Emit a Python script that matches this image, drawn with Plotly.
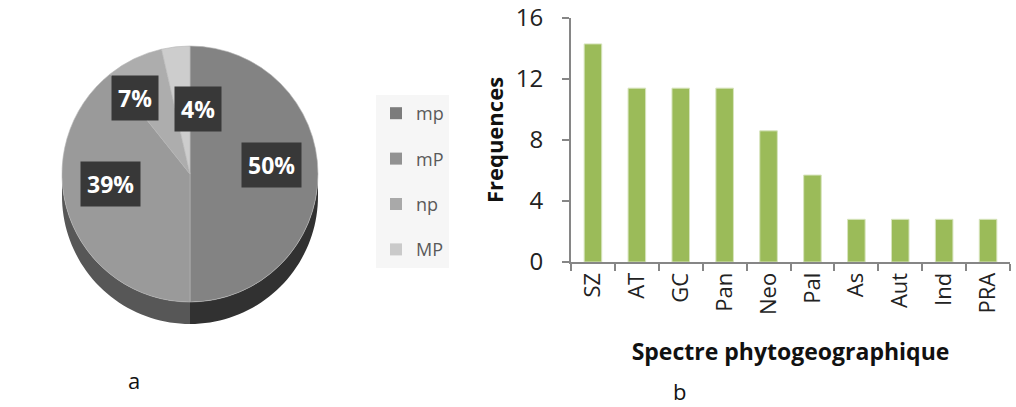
import math
import plotly.graph_objects as go

# ---- data ----
pie_labels = ["mp", "mP", "np", "MP"]
pie_values = [14, 11, 2, 1]
pie_colors = ["#838383", "#9a9a9a", "#adadad", "#cdcdcd"]
legend_colors = ["#7c7c7c", "#929292", "#a9a9a9", "#cacaca"]

bar_categories = ["SZ", "AT", "GC", "Pan", "Neo", "Pal", "As", "Aut", "Ind", "PRA"]
bar_values = [14.3, 11.4, 11.4, 11.4, 8.6, 5.7, 2.8, 2.8, 2.8, 2.8]
y_ticks = [0, 4, 8, 12, 16]

W, H = 1016, 407
FONT = "Open Sans"

def px(x):
    return x / W

def py(y):
    return 1 - y / H

# pie geometry (pixels)
cx, cy, R, depth = 190, 174, 128, 22

fig = go.Figure()

fig.add_trace(go.Bar(
    x=bar_categories, y=bar_values, marker=dict(color="#9bbb59", line=dict(color="#d7e4bd", width=1)),
    width=0.4, xaxis="x", yaxis="y", showlegend=False,
))

fig.add_trace(go.Pie(
    labels=pie_labels, values=pie_values, sort=False, direction="clockwise",
    rotation=0, marker=dict(colors=pie_colors, line=dict(color="#b5b5b5", width=0.6)),
    textinfo="none", hoverinfo="label+percent",
    domain=dict(x=[px(cx - R), px(cx + R)], y=[py(cy + R), py(cy - R)]),
    showlegend=False,
))

# legend entries for the pie slices
for lab, col in zip(pie_labels, legend_colors):
    fig.add_trace(go.Scatter(
        x=[None], y=[None], mode="markers", name=lab, legendgroup=lab,
        marker=dict(symbol="square", size=12, color=col), xaxis="x", yaxis="y",
        showlegend=True,
    ))

# 3D side of the pie (decoration)
def side_path(a0, a1, n=40):
    pts = []
    for i in range(n + 1):
        a = a0 + (a1 - a0) * i / n
        pts.append((cx + R * math.cos(a), cy + R * math.sin(a)))
    for i in range(n + 1):
        a = a1 + (a0 - a1) * i / n
        pts.append((cx + R * math.cos(a), cy + depth + R * math.sin(a)))
    return "M " + " L ".join(f"{px(x):.5f},{py(y):.5f}" for x, y in pts) + " Z"

shapes = [
    dict(type="path", xref="paper", yref="paper", layer="below",
         path=side_path(math.pi / 2, math.pi), fillcolor="#575757", line=dict(width=0)),
    dict(type="path", xref="paper", yref="paper", layer="below",
         path=side_path(0, math.pi / 2), fillcolor="#313131", line=dict(width=0)),
]

# percentage labels in dark boxes
total = sum(pie_values)
annotations = []
cum = 0
fracs = [0.64, 0.66, 0.72, 0.52]
shifts = [(0, -9), (0, -18), (-15, 7), (15, 1)]
for v, f, (sx, sy) in zip(pie_values, fracs, shifts):
    mid = (cum + v / 2) / total * 2 * math.pi
    cum += v
    lx = cx + f * R * math.sin(mid) + sx
    ly = cy - f * R * math.cos(mid) + sy
    annotations.append(dict(
        x=px(lx), y=py(ly), xref="paper", yref="paper", showarrow=False,
        xanchor="center", yanchor="middle",
        text=f"<b>{round(v / total * 100)}%</b>", font=dict(family=FONT, size=23, color="white"),
        bgcolor="#383838", borderpad=6,
    ))

annotations += [
    dict(x=px(134), y=py(380), xref="paper", yref="paper", showarrow=False,
         xanchor="center", yanchor="middle",
         text="a", font=dict(family=FONT, size=22, color="#111")),
    dict(x=px(679), y=py(391), xref="paper", yref="paper", showarrow=False,
         xanchor="center", yanchor="middle",
         text="b", font=dict(family=FONT, size=22, color="#111")),
]

fig.update_layout(
    width=W, height=H, margin=dict(l=0, r=0, t=0, b=0),
    paper_bgcolor="white", plot_bgcolor="white",
    font=dict(family=FONT, color="#222"),
    shapes=shapes, annotations=annotations,
    legend=dict(x=px(376), y=py(95), xanchor="left", yanchor="top",
                bgcolor="#f6f6f6", font=dict(family=FONT, size=18, color="#5a5a5a"),
                traceorder="grouped", tracegroupgap=19, itemwidth=30,
                borderwidth=0),
    xaxis=dict(domain=[px(571), px(1010)], type="category", categoryorder="array",
               categoryarray=bar_categories, showline=True, linecolor="#868686", linewidth=2,
               ticks="outside", tickson="boundaries", ticklen=7, tickcolor="#868686", tickwidth=2,
               tickangle=-90, tickfont=dict(family=FONT, size=22, color="#222"),
               title=dict(text="<b>Spectre phytogeographique</b>", font=dict(family=FONT, size=23, color="#111"), standoff=30),
               showgrid=False, anchor="y", fixedrange=True, automargin=False),
    yaxis=dict(domain=[py(262), py(18)], range=[0, 16], tickvals=y_ticks, showline=True,
               linecolor="#868686", linewidth=2, ticks="outside", ticklen=7, tickcolor="#868686", tickwidth=2,
               tickfont=dict(family=FONT, size=24, color="#222"), ticklabelstandoff=14,
               title=dict(text="<b>Frequences</b>", font=dict(family=FONT, size=22, color="#111"), standoff=6),
               showgrid=False, zeroline=False, anchor="x", fixedrange=True, automargin=False),
)

fig.write_html("out.html", config={"displayModeBar": False},
               post_script="document.body.style.margin='0';")
